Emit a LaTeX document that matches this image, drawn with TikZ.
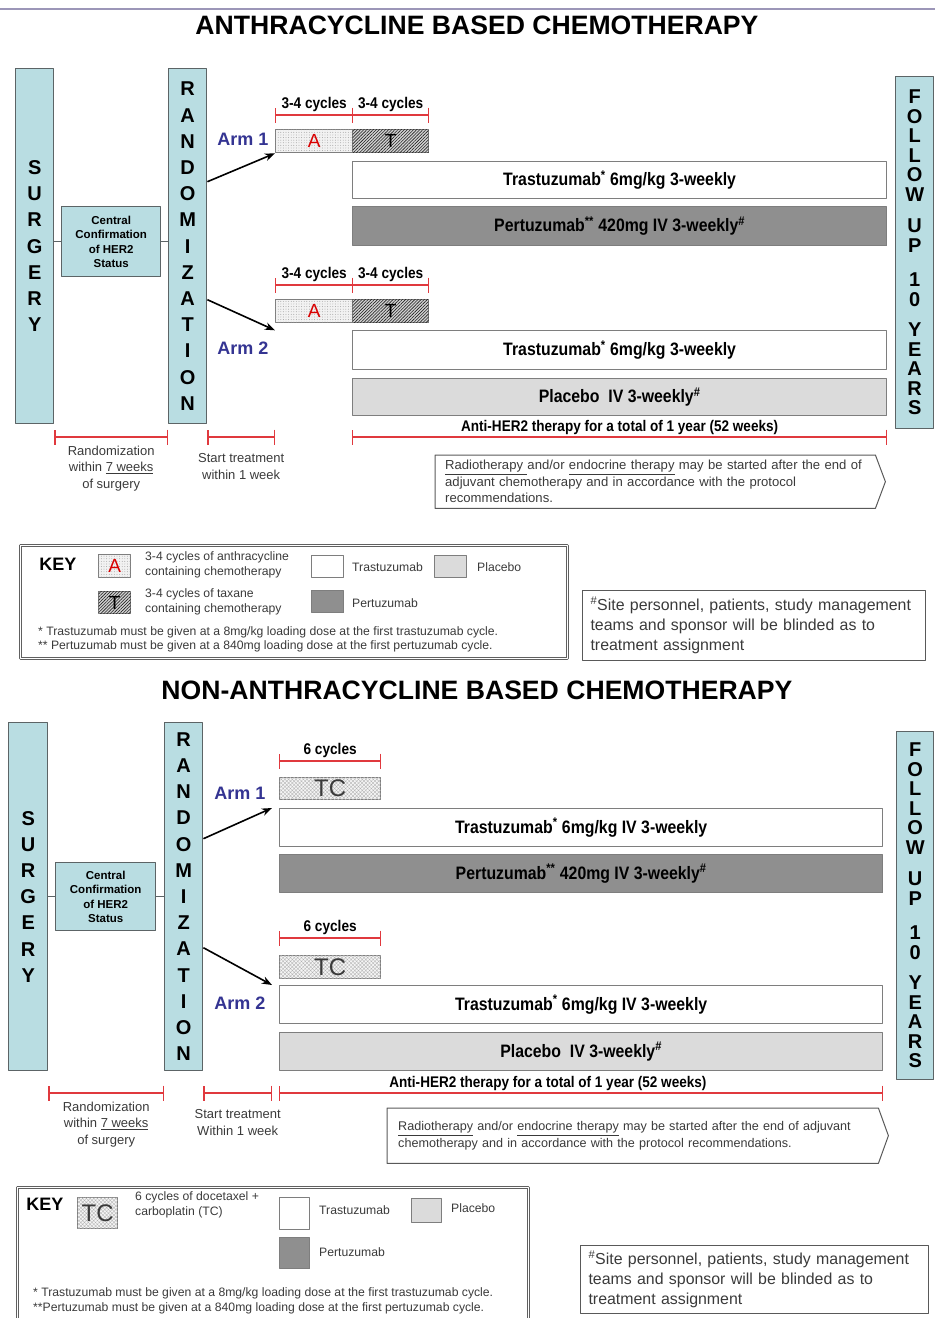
\documentclass[tikz,border=0pt]{standalone}
\usepackage{fontspec}
\setmainfont{Liberation Sans}
\newfontfamily\nfont[FakeStretch=0.88]{Liberation Sans}
\usetikzlibrary{arrows.meta,patterns,patterns.meta,positioning}
\definecolor{panelblue}{HTML}{B9DDE2}
\definecolor{edgegray}{HTML}{5C6466}
\definecolor{bargray}{HTML}{7E7E7E}
\definecolor{pertgray}{HTML}{8F8F8F}
\definecolor{placgray}{HTML}{DBDBDB}
\definecolor{armblue}{HTML}{343492}
\definecolor{spanred}{HTML}{E0393E}
\definecolor{rulepurple}{HTML}{9C96B8}
\definecolor{inkgray}{HTML}{3A3A3A}
\begin{document}
\begin{tikzpicture}[x=1pt, y=-1pt, line join=round, >=Stealth,
  heading/.style={font=\fontsize{26.6}{30}\selectfont\bfseries},
  pillar/.style={draw=edgegray, line width=1.4pt, fill=panelblue, anchor=north west, inner sep=0pt, align=center, font=\fontsize{20}{26.2}\selectfont\bfseries},
  statusbox/.style={draw=edgegray, line width=1.4pt, fill=panelblue, anchor=north west, inner sep=0pt, align=center, font=\fontsize{11.5}{14.5}\selectfont\bfseries},
  link/.style={draw=edgegray, line width=1.4pt},
  armarrow/.style={->, line width=1.6pt},
  armlabel/.style={text=armblue, font=\fontsize{18}{20}\selectfont\bfseries},
  bar/.style={draw=bargray, line width=1.3pt, anchor=north west, inner sep=0pt, font=\nfont\fontsize{18}{20}\selectfont\bfseries},
  trasbar/.style={bar, fill=white},
  pertbar/.style={bar, fill=pertgray},
  placbar/.style={bar, fill=placgray},
  anthra/.style={bar, fill=gray!10, postaction={pattern={Dots[distance=2.6pt, radius=0.45pt]}, pattern color=gray!80}, text=red!85!black, font=\fontsize{19}{20}\selectfont},
  taxane/.style={bar, fill=gray!35, postaction={pattern={Lines[angle=45, distance=2.2pt, line width=0.6pt]}, pattern color=gray!25!black}, font=\fontsize{19}{20}\selectfont},
  tcbox/.style={bar, fill=gray!8, postaction={pattern={Hatch[angle=45, distance=2.6pt, line width=0.35pt]}, pattern color=gray!60}, text=inkgray, font=\fontsize{24}{24}\selectfont},
  timespan/.style={draw=spanred, line width=1.3pt, {Bar[width=15pt]}-{Bar[width=15pt]}},
  spanlabel/.style={font=\nfont\fontsize{15.5}{16}\selectfont\bfseries, inner sep=1pt},
  spantext/.style={align=center, text=inkgray, font=\fontsize{13}{16.5}\selectfont, inner sep=0pt, anchor=north},
  notetext/.style={align=left, anchor=north west, text=inkgray, font=\fontsize{13.1}{16.5}\selectfont, inner ysep=0pt},
  noteedge/.style={draw=gray!70!black, line width=1pt},
  keyframe/.style={draw=gray!75!black, line width=1.2pt, double=white, double distance=1.3pt, anchor=north west, inner sep=0pt},
  swatch/.style={draw=bargray, line width=1.1pt, anchor=north west, inner sep=0pt},
  keytext/.style={anchor=west, text=inkgray, font=\fontsize{12.2}{15}\selectfont, inner sep=0pt, align=left},
  keyword/.style={font=\fontsize{18}{20}\selectfont\bfseries},
  blindbox/.style={draw=gray!70!black, line width=1.1pt, anchor=north west, align=left, text=inkgray, font=\fontsize{15.9}{20}\selectfont, inner ysep=0pt, inner xsep=8pt}
]
\useasboundingbox (0,0) rectangle (935,1318);

% ---------- anthracycline based ----------
\draw[rulepurple, line width=1.2pt] (0,9) -- (935,9);
\node[heading] (title1) at (477,25) {ANTHRACYCLINE BASED CHEMOTHERAPY};

\node[pillar, minimum width=38, minimum height=355] (surg1) at (15,68) {S\\U\\R\\G\\E\\R\\Y};
\node[statusbox, minimum width=99, minimum height=70] (conf1) at (61,206) {Central\\Confirmation\\of HER2\\Status};
\node[pillar, minimum width=38, minimum height=355] (rand1) at (168,68) {R\\A\\N\\D\\O\\M\\I\\Z\\A\\T\\I\\O\\N};
\node[pillar, minimum width=38, minimum height=352, font=\fontsize{20}{19.5}\selectfont\bfseries] (fol1) at (895,76)
  {F\\O\\L\\L\\O\\W\\[12pt]U\\P\\[15pt]1\\0\\[11pt]Y\\E\\A\\R\\S};
\draw[link] (conf1.west) -- (conf1.west -| surg1.east);
\draw[link] (conf1.east) -- (conf1.east -| rand1.west);

% arm 1
\node[armlabel] (arm1) at (243,139) {Arm 1};
\node[anthra, minimum width=77, minimum height=23] (a1) at (275,129) {A};
\node[taxane, minimum width=76, minimum height=23] (t1) at (352,129) {T};
\node[trasbar, minimum width=534, minimum height=37] (tra1) at (352,161) {Trastuzumab\textsuperscript{*} 6mg/kg 3-weekly};
\node[pertbar, minimum width=534, minimum height=39] (per1) at (352,206) {Pertuzumab\textsuperscript{**} 420mg IV 3-weekly\textsuperscript{\#}};
\draw[timespan] ([yshift=14pt]a1.north west) -- ([yshift=14pt]a1.north east) node[midway, above=2pt, spanlabel] {3-4 cycles};
\draw[timespan] ([yshift=14pt]t1.north west) -- ([yshift=14pt]t1.north east) node[midway, above=2pt, spanlabel] {3-4 cycles};
\draw[armarrow] ([yshift=64.5pt]rand1.east) -- (a1.south west);

% arm 2
\node[armlabel] (arm2) at (243,348) {Arm 2};
\node[anthra, minimum width=77, minimum height=23] (a2) at (275,299) {A};
\node[taxane, minimum width=76, minimum height=23] (t2) at (352,299) {T};
\node[trasbar, minimum width=534, minimum height=39] (tra2) at (352,330) {Trastuzumab\textsuperscript{*} 6mg/kg 3-weekly};
\node[placbar, minimum width=534, minimum height=37] (pla2) at (352,378) {Placebo\ \ IV 3-weekly\textsuperscript{\#}};
\draw[timespan] ([yshift=14pt]a2.north west) -- ([yshift=14pt]a2.north east) node[midway, above=2pt, spanlabel] {3-4 cycles};
\draw[timespan] ([yshift=14pt]t2.north west) -- ([yshift=14pt]t2.north east) node[midway, above=2pt, spanlabel] {3-4 cycles};
\draw[armarrow] ([yshift=-53.5pt]rand1.east) -- ([yshift=-7pt]a2.south west);

% time line
\coordinate (rowA) at (0,437);
\draw[timespan] (surg1.east |- rowA) -- (rand1.west |- rowA)
  node[midway, below=8pt, spantext] {Randomization\\within \underline{7 weeks}\\of surgery};
\draw[timespan] (rand1.east |- rowA) -- (a1.west |- rowA)
  node[midway, below=16pt, spantext] {Start treatment\\within 1 week};
\draw[timespan] (tra1.west |- rowA) -- (tra1.east |- rowA)
  node[midway, above=1pt, spanlabel, font=\nfont\fontsize{15.4}{16}\selectfont\bfseries] {Anti-HER2 therapy for a total of 1 year (52 weeks)};
\node[notetext, text width=420pt, inner xsep=10pt, minimum height=53pt] (note1) at (435,455)
  {\underline{Radiotherapy }and/or \underline{endocrine therapy} may be started after the end of\\adjuvant chemotherapy and in accordance with the protocol\\recommendations.};
\draw[noteedge] (note1.north west) -- (note1.north east) -- ([xshift=10pt]note1.east) -- (note1.south east) -- (note1.south west) -- cycle;

% key
\node[keyframe, minimum width=547, minimum height=113] (key1) at (20,545) {};
\node[keyword] (kw1) at (58,564) {KEY};
\node[swatch, anthra, minimum width=32, minimum height=23] (ka1) at (98,554) {A};
\node[keytext, anchor=north west] (kat1) at (145,551) {3-4 cycles of anthracycline\\containing chemotherapy};
\node[swatch, fill=white, minimum width=32, minimum height=22] (ktr1) at (311,555) {};
\node[keytext] (ktrt1) at (352,567) {Trastuzumab};
\node[swatch, fill=placgray, minimum width=32, minimum height=22] (kpl1) at (434,555) {};
\node[keytext] (kplt1) at (477,567) {Placebo};
\node[swatch, taxane, minimum width=32, minimum height=22] (kt1) at (98,591) {T};
\node[keytext, anchor=north west] (ktt1) at (145,588) {3-4 cycles of taxane\\containing chemotherapy};
\node[swatch, fill=pertgray, minimum width=32, minimum height=22] (kpe1) at (311,590) {};
\node[keytext] (kpet1) at (352,603) {Pertuzumab};
\node[keytext] (fn1a) at (38,632) {* Trastuzumab must be given at a 8mg/kg loading dose at the first trastuzumab cycle.};
\node[keytext] (fn1b) at (38,646) {** Pertuzumab must be given at a 840mg loading dose at the first pertuzumab cycle.};

\node[blindbox, text width=327pt, minimum height=70pt] (blind1) at (582,590)
  {\textsuperscript{\#}Site personnel, patients, study management\\teams and sponsor will be blinded as to\\treatment assignment};

% ---------- non-anthracycline based ----------
\node[heading] (title2) at (477,690) {NON-ANTHRACYCLINE BASED CHEMOTHERAPY};

\node[pillar, minimum width=39, minimum height=348] (surg2) at (8,722) {S\\U\\R\\G\\E\\R\\Y};
\node[statusbox, minimum width=100, minimum height=68] (conf2) at (55,862) {Central\\Confirmation\\of HER2\\Status};
\node[pillar, minimum width=38, minimum height=348] (rand2) at (164,722) {R\\A\\N\\D\\O\\M\\I\\Z\\A\\T\\I\\O\\N};
\node[pillar, minimum width=37, minimum height=348, font=\fontsize{20}{19.5}\selectfont\bfseries] (fol2) at (896,731)
  {F\\O\\L\\L\\O\\W\\[12pt]U\\P\\[15pt]1\\0\\[11pt]Y\\E\\A\\R\\S};
\draw[link] (conf2.west) -- (conf2.west -| surg2.east);
\draw[link] (conf2.east) -- (conf2.east -| rand2.west);

% arm 1
\node[armlabel] (arm3) at (240,793) {Arm 1};
\node[tcbox, minimum width=101, minimum height=22] (tc1) at (279,777) {TC};
\node[trasbar, minimum width=603, minimum height=38] (tra3) at (279,808) {Trastuzumab\textsuperscript{*} 6mg/kg IV 3-weekly};
\node[pertbar, minimum width=603, minimum height=38] (per3) at (279,854) {Pertuzumab\textsuperscript{**} 420mg IV 3-weekly\textsuperscript{\#}};
\draw[timespan] ([yshift=16pt]tc1.north west) -- ([yshift=16pt]tc1.north east) node[midway, above=2pt, spanlabel] {6 cycles};
\draw[armarrow] ([yshift=58pt]rand2.east) -- ([xshift=-7pt]tra3.north west);

% arm 2
\node[armlabel] (arm4) at (240,1003) {Arm 2};
\node[tcbox, minimum width=101, minimum height=23] (tc2) at (279,955) {TC};
\node[trasbar, minimum width=603, minimum height=38] (tra4) at (279,985) {Trastuzumab\textsuperscript{*} 6mg/kg IV 3-weekly};
\node[placbar, minimum width=603, minimum height=38] (pla4) at (279,1032) {Placebo\ \ IV 3-weekly\textsuperscript{\#}};
\draw[timespan] ([yshift=17pt]tc2.north west) -- ([yshift=17pt]tc2.north east) node[midway, above=2pt, spanlabel] {6 cycles};
\draw[armarrow] ([yshift=-51pt]rand2.east) -- ([xshift=-7pt]tra4.north west);

% time line
\coordinate (rowB) at (0,1093);
\draw[timespan] (surg2.east |- rowB) -- (rand2.west |- rowB)
  node[midway, below=8pt, spantext] {Randomization\\within \underline{7 weeks}\\of surgery};
\draw[timespan] (rand2.east |- rowB) -- ([xshift=-7pt]tc1.west |- rowB)
  node[midway, below=16pt, spantext] {Start treatment\\Within 1 week};
\draw[timespan] (tc1.west |- rowB) -- (tra3.east |- rowB)
  node[pos=0.445, above=1pt, spanlabel, font=\nfont\fontsize{15.4}{16}\selectfont\bfseries] {Anti-HER2 therapy for a total of 1 year (52 weeks)};
\node[notetext, text width=469pt, inner xsep=11pt, minimum height=55pt, font=\fontsize{12.6}{16.5}\selectfont] (note2) at (387,1108)
  {\underline{Radiotherapy} and/or \underline{endocrine therapy} may be started after the end of adjuvant\\chemotherapy and in accordance with the protocol recommendations.};
\draw[noteedge] (note2.north west) -- (note2.north east) -- ([xshift=10pt]note2.east) -- (note2.south east) -- (note2.south west) -- cycle;

% key
\node[keyframe, minimum width=511, minimum height=145] (key2) at (17,1187) {};
\node[keyword] (kw2) at (45,1204) {KEY};
\node[swatch, tcbox, minimum width=40, minimum height=31] (ktc2) at (77,1197) {TC};
\node[keytext, anchor=north west] (ktct2) at (135,1191) {6 cycles of docetaxel +\\carboplatin (TC)};
\node[swatch, fill=white, minimum width=30, minimum height=32] (ktr2) at (279,1197) {};
\node[keytext] (ktrt2) at (319,1210) {Trastuzumab};
\node[swatch, fill=placgray, minimum width=30, minimum height=24] (kpl2) at (411,1198) {};
\node[keytext] (kplt2) at (451,1208) {Placebo};
\node[swatch, fill=pertgray, minimum width=30, minimum height=31] (kpe2) at (279,1237) {};
\node[keytext] (kpet2) at (319,1252) {Pertuzumab};
\node[keytext] (fn2a) at (33,1293) {* Trastuzumab must be given at a 8mg/kg loading dose at the first trastuzumab cycle.};
\node[keytext] (fn2b) at (33,1308) {**Pertuzumab must be given at a 840mg loading dose at the first pertuzumab cycle.};

\node[blindbox, text width=332pt, minimum height=68pt] (blind2) at (580,1245)
  {\textsuperscript{\#}Site personnel, patients, study management\\teams and sponsor will be blinded as to\\treatment assignment};
\end{tikzpicture}
\end{document}
